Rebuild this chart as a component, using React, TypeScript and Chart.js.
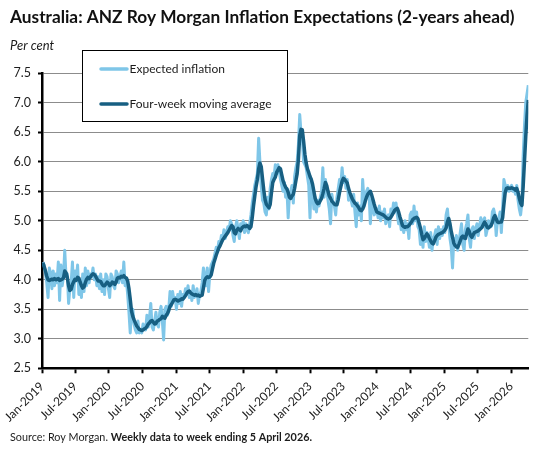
import React, { useEffect, useRef } from "react";
import { Chart, registerables } from "chart.js";

Chart.register(...registerables);

// ---------- data ----------
const FIRST_WEEK_ENDING = "2019-01-06";
const AXIS_START = "2019-01-01";
const AXIS_END = "2026-04-05";

const tickLabels = [
  "Jan-2019", "Jul-2019", "Jan-2020", "Jul-2020", "Jan-2021", "Jul-2021", "Jan-2022", "Jul-2022",
  "Jan-2023", "Jul-2023", "Jan-2024", "Jul-2024", "Jan-2025", "Jul-2025", "Jan-2026",
];

const yTickValues = [2.5, 3.0, 3.5, 4.0, 4.5, 5.0, 5.5, 6.0, 6.5, 7.0, 7.5];

// Weekly expected inflation (per cent), week ending 6 Jan 2019 .. 5 Apr 2026
const expectedInflation = [
  4.30, 4.25, 4.10, 3.95, 3.70, 4.20, 4.10, 3.85, 4.15, 3.90,
  4.10, 3.95, 4.30, 3.65, 4.25, 3.90, 4.05, 4.50, 4.05, 4.10,
  3.60, 3.85, 3.95, 4.30, 3.70, 4.15, 4.00, 4.25, 3.75, 3.95,
  3.70, 4.10, 3.80, 4.20, 3.90, 4.15, 3.95, 4.10, 4.05, 4.20,
  4.00, 4.10, 3.90, 4.05, 3.85, 4.10, 3.80, 4.00, 3.75, 4.10,
  4.05, 3.85, 3.70, 4.10, 4.05, 3.90, 3.85, 4.15, 4.10, 3.95,
  4.05, 4.15, 3.95, 4.30, 3.90, 4.00, 3.75, 3.45, 3.10, 3.45,
  3.50, 3.25, 3.15, 3.10, 3.30, 3.10, 3.15, 3.10, 3.25, 3.20,
  3.15, 3.40, 3.20, 3.35, 3.60, 3.20, 3.15, 3.30, 3.45, 3.25,
  3.20, 3.45, 3.55, 3.30, 2.98, 3.50, 3.55, 3.40, 3.50, 3.80,
  3.55, 3.80, 3.65, 3.70, 3.50, 3.75, 3.60, 3.80, 3.55, 3.75,
  3.70, 3.85, 3.75, 3.90, 3.70, 3.80, 3.65, 3.90, 3.70, 3.75,
  3.85, 3.60, 3.75, 3.80, 3.95, 4.20, 4.05, 3.90, 4.20, 3.80,
  4.10, 4.25, 4.30, 4.35, 4.45, 4.55, 4.50, 4.65, 4.60, 4.75,
  4.70, 4.85, 4.70, 4.80, 4.90, 4.85, 5.00, 4.95, 4.75, 4.65,
  4.90, 5.00, 4.85, 4.70, 4.95, 4.90, 5.00, 4.80, 4.95, 4.85,
  4.80, 4.95, 5.10, 5.30, 5.45, 5.60, 5.70, 5.80, 6.40, 6.00,
  5.60, 5.35, 5.30, 5.15, 5.10, 5.40, 5.20, 5.55, 5.70, 5.80,
  5.75, 5.95, 5.80, 5.95, 5.85, 5.70, 5.60, 5.50, 5.65, 5.40,
  5.55, 5.05, 5.45, 5.50, 5.60, 5.30, 5.75, 5.90, 6.00, 6.30,
  6.80, 6.50, 6.40, 6.00, 5.95, 5.90, 5.75, 5.60, 5.05, 5.70,
  5.50, 5.20, 5.40, 5.15, 5.35, 5.25, 5.40, 5.50, 5.90, 5.40,
  5.70, 5.55, 5.35, 5.20, 4.95, 5.45, 5.30, 5.25, 5.10, 5.40,
  5.55, 5.70, 5.60, 5.90, 5.65, 5.75, 5.55, 5.70, 5.35, 5.40,
  5.35, 5.25, 5.45, 5.15, 4.90, 5.30, 5.10, 5.25, 5.00, 5.70,
  5.35, 5.40, 5.50, 5.55, 5.45, 4.95, 5.35, 5.20, 5.10, 5.15,
  5.20, 5.05, 5.25, 5.00, 5.15, 5.05, 5.20, 4.95, 5.05, 5.10,
  4.90, 5.20, 5.10, 5.30, 5.15, 5.30, 5.10, 4.95, 5.05, 4.85,
  4.95, 4.80, 5.00, 4.85, 4.95, 4.70, 5.10, 5.15, 4.95, 5.25,
  5.00, 5.15, 4.90, 4.85, 4.60, 4.75, 4.55, 4.90, 4.65, 4.80,
  4.70, 4.55, 4.80, 4.50, 4.70, 4.75, 4.85, 4.60, 4.90, 4.70,
  4.85, 4.75, 4.90, 4.80, 5.10, 5.20, 4.95, 4.70, 4.55, 4.20,
  4.70, 4.55, 4.75, 4.50, 4.65, 4.80, 4.95, 4.60, 4.50, 4.85,
  4.95, 5.10, 4.70, 4.55, 4.85, 4.90, 4.70, 4.85, 4.95, 4.75,
  4.90, 5.05, 4.95, 5.00, 5.05, 4.75, 4.85, 5.00, 4.95, 4.90,
  5.15, 5.20, 5.10, 4.75, 5.00, 5.05, 5.15, 4.80, 5.20, 5.70,
  5.60, 5.50, 5.60, 5.50, 5.55, 5.60, 5.50, 5.55, 5.45, 5.60,
  5.35, 5.20, 5.10, 5.30, 6.10, 6.60, 7.00, 7.15, 7.30,
];

// Four-week moving average (per cent), same weeks
const fourWeekAverage = [
  4.29, 4.22, 4.15, 4.06, 4.00, 3.99, 4.00, 4.01, 4.00, 4.02,
  4.00, 4.01, 4.02, 3.99, 4.00, 4.01, 4.03, 4.15, 4.12, 4.04,
  3.90, 3.82, 3.84, 3.92, 3.97, 4.01, 3.99, 4.04, 4.03, 3.96,
  3.90, 3.86, 3.88, 3.95, 4.01, 4.04, 4.02, 4.05, 4.08, 4.10,
  4.09, 4.06, 4.02, 3.98, 3.98, 3.97, 3.93, 3.90, 3.90, 3.93,
  3.96, 3.94, 3.90, 3.92, 3.96, 3.95, 3.92, 3.96, 4.03, 4.04,
  4.03, 4.06, 4.05, 4.07, 4.04, 4.03, 3.98, 3.85, 3.67, 3.47,
  3.38, 3.32, 3.27, 3.22, 3.19, 3.16, 3.15, 3.14, 3.15, 3.17,
  3.18, 3.21, 3.25, 3.27, 3.30, 3.31, 3.28, 3.25, 3.26, 3.30,
  3.31, 3.33, 3.34, 3.38, 3.36, 3.35, 3.40, 3.43, 3.48, 3.55,
  3.58, 3.62, 3.66, 3.67, 3.66, 3.64, 3.65, 3.66, 3.68, 3.67,
  3.70, 3.73, 3.77, 3.80, 3.81, 3.78, 3.76, 3.75, 3.74, 3.75,
  3.73, 3.74, 3.72, 3.73, 3.74, 3.86, 3.99, 4.03, 4.05, 4.04,
  4.05, 4.08, 4.18, 4.28, 4.35, 4.42, 4.48, 4.54, 4.58, 4.63,
  4.68, 4.71, 4.74, 4.77, 4.80, 4.84, 4.88, 4.92, 4.90, 4.80,
  4.78, 4.84, 4.87, 4.85, 4.83, 4.88, 4.90, 4.91, 4.90, 4.92,
  4.90, 4.87, 4.90, 5.05, 5.25, 5.42, 5.58, 5.70, 5.88, 5.98,
  5.92, 5.72, 5.52, 5.36, 5.28, 5.25, 5.22, 5.28, 5.48, 5.65,
  5.70, 5.74, 5.82, 5.86, 5.90, 5.88, 5.78, 5.68, 5.62, 5.57,
  5.54, 5.48, 5.40, 5.38, 5.42, 5.45, 5.55, 5.68, 5.80, 6.05,
  6.45, 6.55, 6.54, 6.35, 6.13, 5.98, 5.88, 5.82, 5.75, 5.70,
  5.62, 5.50, 5.38, 5.32, 5.29, 5.30, 5.34, 5.38, 5.46, 5.55,
  5.65, 5.60, 5.50, 5.42, 5.38, 5.33, 5.31, 5.28, 5.27, 5.27,
  5.36, 5.48, 5.58, 5.67, 5.72, 5.70, 5.67, 5.64, 5.55, 5.48,
  5.42, 5.37, 5.33, 5.30, 5.28, 5.25, 5.22, 5.18, 5.17, 5.20,
  5.25, 5.33, 5.40, 5.45, 5.48, 5.50, 5.44, 5.36, 5.28, 5.21,
  5.15, 5.14, 5.13, 5.12, 5.11, 5.10, 5.08, 5.06, 5.04, 5.03,
  5.04, 5.06, 5.10, 5.14, 5.18, 5.20, 5.21, 5.15, 5.07, 5.00,
  4.92, 4.90, 4.89, 4.90, 4.90, 4.92, 4.95, 4.98, 5.02, 5.04,
  5.05, 5.06, 5.04, 4.96, 4.88, 4.77, 4.68, 4.70, 4.74, 4.78,
  4.75, 4.70, 4.66, 4.62, 4.61, 4.66, 4.72, 4.75, 4.77, 4.78,
  4.79, 4.80, 4.82, 4.84, 4.88, 4.98, 5.04, 4.95, 4.82, 4.72,
  4.62, 4.58, 4.56, 4.55, 4.60, 4.66, 4.72, 4.74, 4.71, 4.70,
  4.78, 4.86, 4.82, 4.75, 4.72, 4.76, 4.80, 4.81, 4.82, 4.83,
  4.85, 4.87, 4.89, 4.94, 4.98, 4.94, 4.89, 4.88, 4.90, 4.92,
  4.97, 5.05, 5.09, 5.03, 4.98, 4.97, 4.98, 4.98, 5.05, 5.28,
  5.48, 5.55, 5.56, 5.55, 5.55, 5.56, 5.55, 5.54, 5.52, 5.55,
  5.48, 5.38, 5.30, 5.26, 5.58, 6.00, 6.42, 6.78, 7.05,
];

const TITLE = "Australia: ANZ Roy Morgan Inflation Expectations (2-years ahead)";
const Y_UNIT = "Per cent";
const SOURCE_PLAIN = "Source: Roy Morgan. ";
const SOURCE_BOLD = "Weekly data to week ending 5 April 2026.";
const SERIES_NAMES = ["Expected inflation", "Four-week moving average"];

// ---------- styling ----------
const FONT = "Lato, 'Open Sans', sans-serif";
const LIGHT = "#7fc6e8";
const DARK = "#175f82";
const TEXT = "#1c1c1c";
const GRID = "#8c8c8c";
const W = 548;
const H = 454;

const DAY_MS = 86400000;
const dayOf = (iso: string) => (Date.parse(iso) - Date.parse(AXIS_START)) / DAY_MS;
const monthNum: Record<string, string> = { Jan: "01", Jul: "07" };
const tickDays = tickLabels.map((l) => {
  const [m, y] = l.split("-");
  return dayOf(`${y}-${monthNum[m]}-01`);
});
const firstDay = dayOf(FIRST_WEEK_ENDING);
const toPoints = (arr: number[]) => arr.map((v, i) => ({ x: firstDay + 7 * i, y: v }));

const overlayPlugin = {
  id: "overlay",
  afterDraw(chart: any) {
    const ctx = chart.ctx as CanvasRenderingContext2D;
    ctx.save();
    ctx.textAlign = "left";
    ctx.textBaseline = "alphabetic";
    ctx.fillStyle = "#111";
    ctx.font = `bold 17.3px ${FONT}`;
    ctx.fillText(TITLE, 10, 23);
    ctx.font = `italic 13px ${FONT}`;
    ctx.fillStyle = TEXT;
    ctx.fillText(Y_UNIT, 10, 49.5);

    // source line
    ctx.font = `10.8px ${FONT}`;
    ctx.fillStyle = TEXT;
    ctx.fillText(SOURCE_PLAIN, 10, 441);
    const w0 = ctx.measureText(SOURCE_PLAIN).width;
    ctx.font = `bold 10.8px ${FONT}`;
    ctx.fillText(SOURCE_BOLD, 10 + w0, 441);

    // legend
    const bx = 82.5, by = 50.5, bw = 205, bh = 71;
    ctx.fillStyle = "#fff";
    ctx.fillRect(bx, by, bw, bh);
    ctx.strokeStyle = "#000";
    ctx.lineWidth = 1;
    ctx.strokeRect(bx, by, bw, bh);
    const rows = [
      { y: 69, color: LIGHT, name: SERIES_NAMES[0] },
      { y: 104, color: DARK, name: SERIES_NAMES[1] },
    ];
    rows.forEach((r) => {
      ctx.strokeStyle = r.color;
      ctx.lineWidth = 3.5;
      ctx.lineCap = "round";
      ctx.beginPath();
      ctx.moveTo(101, r.y);
      ctx.lineTo(127, r.y);
      ctx.stroke();
      ctx.fillStyle = TEXT;
      ctx.font = `12px ${FONT}`;
      ctx.textBaseline = "middle";
      ctx.fillText(r.name, 129.5, r.y);
    });
    ctx.restore();
  },
};

export default function App() {
  const ref = useRef<HTMLCanvasElement | null>(null);

  useEffect(() => {
    if (!ref.current) return;
    const chart = new Chart(ref.current, {
      type: "line",
      data: {
        datasets: [
          {
            label: SERIES_NAMES[0],
            data: toPoints(expectedInflation),
            borderColor: LIGHT,
            backgroundColor: LIGHT,
            borderWidth: 3,
            pointRadius: 0,
            tension: 0,
            borderJoinStyle: "round",
            order: 2,
          },
          {
            label: SERIES_NAMES[1],
            data: toPoints(fourWeekAverage),
            borderColor: DARK,
            backgroundColor: DARK,
            borderWidth: 3.5,
            pointRadius: 0,
            tension: 0,
            borderJoinStyle: "round",
            order: 1,
          },
        ],
      },
      options: {
        responsive: false,
        animation: false,
        events: [],
        layout: { padding: { left: 0, top: 73.3, right: W - 528.3, bottom: 0 } },
        plugins: {
          legend: { display: false },
          title: { display: false },
          tooltip: { enabled: false },
        },
        scales: {
          x: {
            type: "linear",
            min: 0,
            max: dayOf(AXIS_END),
            afterBuildTicks: (s: any) => {
              s.ticks = tickDays.map((d) => ({ value: d }));
            },
            afterFit: (s: any) => {
              s.height = H - 368.3;
            },
            ticks: {
              autoSkip: false,
              maxRotation: 45,
              minRotation: 45,
              padding: 6,
              color: TEXT,
              font: { family: FONT, size: 12 },
              callback: (v: any) => {
                const k = tickDays.indexOf(Number(v));
                return k >= 0 ? tickLabels[k] : "";
              },
            },
            grid: {
              drawOnChartArea: false,
              drawTicks: true,
              tickLength: 5,
              tickColor: "#000",
              tickWidth: 2,
            },
            border: { display: true, color: "#000", width: 2.5 },
          },
          y: {
            min: 2.5,
            max: 7.5,
            afterBuildTicks: (s: any) => {
              s.ticks = yTickValues.map((v) => ({ value: v }));
            },
            afterFit: (s: any) => {
              s.width = 42;
            },
            ticks: {
              padding: 7,
              color: TEXT,
              font: { family: FONT, size: 12.5 },
              callback: (v: any) => Number(v).toFixed(1),
            },
            grid: {
              color: GRID,
              lineWidth: 1,
              drawTicks: true,
              tickLength: 4,
              tickColor: "#000",
              tickWidth: 2,
            },
            border: { display: true, color: "#000", width: 2.5 },
          },
        },
      },
      plugins: [overlayPlugin],
    });
    return () => chart.destroy();
  }, []);

  return (
    <div style={{ position: "fixed", left: 0, top: 0, width: W, height: H, background: "#fff" }}>
      <canvas ref={ref} width={W} height={H} style={{ display: "block", width: W, height: H }} />
    </div>
  );
}
